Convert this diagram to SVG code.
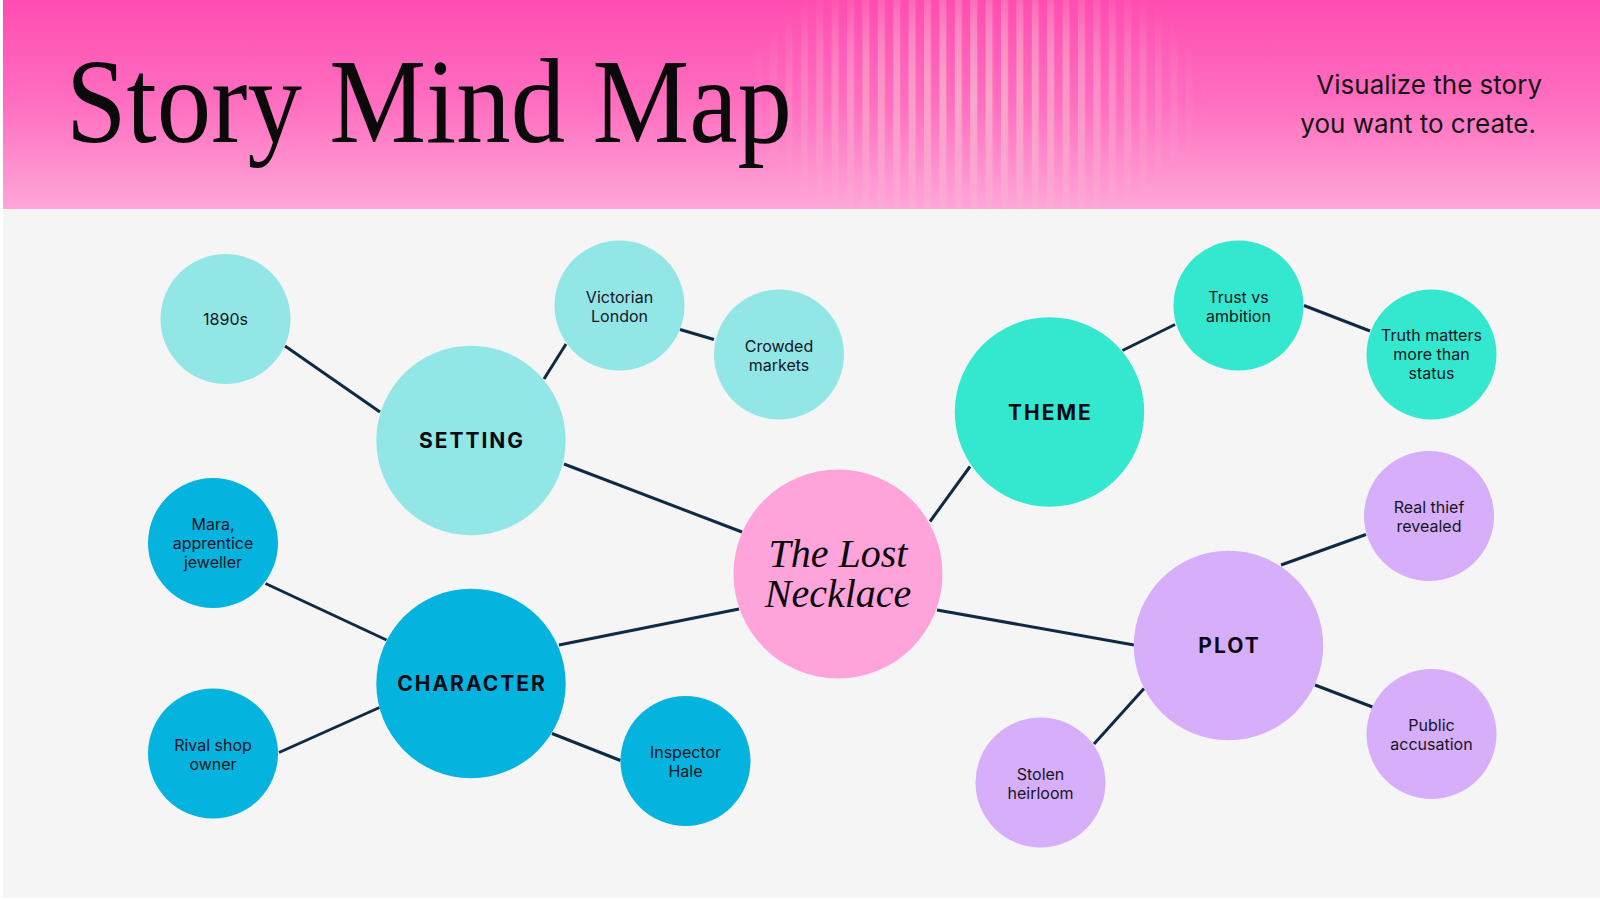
<svg xmlns="http://www.w3.org/2000/svg" width="1600" height="900" viewBox="0 0 1600 900">
  <defs>
    <linearGradient id="hdr" x1="0" y1="0" x2="0" y2="1">
      <stop offset="0" stop-color="#FF4DB1"/>
      <stop offset="0.5" stop-color="#FF6FC0"/>
      <stop offset="1" stop-color="#FFA6D8"/>
    </linearGradient>
    <pattern id="stripes" x="0" y="0" width="15.4" height="10" patternUnits="userSpaceOnUse">
      <rect x="0" y="0" width="7" height="10" fill="#F4C2D0"/>
    </pattern>
    <radialGradient id="fade" cx="975" cy="100" r="235" gradientUnits="userSpaceOnUse" gradientTransform="translate(975 100) scale(1 0.62) translate(-975 -100)">
      <stop offset="0" stop-color="#fff" stop-opacity="0.7"/>
      <stop offset="0.5" stop-color="#fff" stop-opacity="0.45"/>
      <stop offset="1" stop-color="#fff" stop-opacity="0"/>
    </radialGradient>
    <mask id="stripeMask" maskUnits="userSpaceOnUse" x="700" y="0" width="600" height="209">
      <rect x="700" y="0" width="600" height="209" fill="url(#fade)"/>
    </mask>
    <style>
      .link { stroke: #0E2A45; stroke-width: 3; fill: none; stroke-linecap: butt; }
      .setting { fill: #93E6E6; }
      .character { fill: #05B3DF; }
      .theme { fill: #34E8CF; }
      .plot { fill: #D6AEFA; }
      .center { fill: #FFA4DA; }
      .small { font-family: Inter, "Noto Sans", "Liberation Sans", sans-serif; font-size: 16px; fill: #15151F; text-anchor: middle; }
      .cat { font-family: Inter, "Noto Sans", "Liberation Sans", sans-serif; font-size: 21px; font-weight: 700; letter-spacing: 2px; fill: #0A0A12; text-anchor: middle; }
      .title { font-family: "Liberation Serif", "Times New Roman", serif; font-size: 120px; fill: #0A0A0A; }
      .sub { font-family: Inter, "Noto Sans", "Liberation Sans", sans-serif; font-size: 26px; fill: #141414; }
      .hero { font-family: "Liberation Serif", "Times New Roman", serif; font-style: italic; font-size: 40px; fill: #0A0A0A; text-anchor: middle; }
    </style>
  </defs>

  <!-- background -->
  <rect x="0" y="0" width="1600" height="900" fill="#FFFFFF"/>
  <rect x="3" y="209" width="1597" height="689" fill="#F5F5F5"/>

  <!-- header -->
  <g id="header">
    <rect x="3" y="0" width="1597" height="209" fill="url(#hdr)"/>
    <rect x="700" y="0" width="600" height="209" fill="url(#stripes)" mask="url(#stripeMask)"/>
    <text class="title" x="66" y="142" textLength="726" lengthAdjust="spacingAndGlyphs">Story Mind Map</text>
    <text class="sub" x="1542" y="94" text-anchor="end">Visualize the story</text>
    <text class="sub" x="1536" y="133" text-anchor="end">you want to create.</text>
  </g>

  <!-- connectors -->
  <g id="connectors">
    <line class="link" x1="285" y1="346" x2="380" y2="412"/>
    <line class="link" x1="566" y1="344" x2="544" y2="379"/>
    <line class="link" x1="680" y1="329.5" x2="714" y2="339.5"/>
    <line class="link" x1="564" y1="464" x2="742" y2="532"/>
    <line class="link" x1="559" y1="645" x2="739" y2="609"/>
    <line class="link" x1="265.5" y1="583.5" x2="386.5" y2="640"/>
    <line class="link" x1="279" y1="752.5" x2="379.5" y2="707.5"/>
    <line class="link" x1="552" y1="733.5" x2="620.5" y2="760.5"/>
    <line class="link" x1="930" y1="521.5" x2="970" y2="466.5"/>
    <line class="link" x1="1122.5" y1="350.5" x2="1175" y2="324.5"/>
    <line class="link" x1="1304" y1="305.5" x2="1370" y2="331"/>
    <line class="link" x1="937" y1="610" x2="1134" y2="645"/>
    <line class="link" x1="1281" y1="565" x2="1366" y2="534.5"/>
    <line class="link" x1="1315" y1="685" x2="1372.5" y2="707"/>
    <line class="link" x1="1144" y1="688.5" x2="1094" y2="744"/>
  </g>

  <!-- nodes -->
  <g id="node-necklace">
    <circle class="center" cx="838" cy="574" r="104.5"/>
    <text class="hero" x="838" y="566.5">The Lost</text>
    <text class="hero" x="838" y="607">Necklace</text>
  </g>

  <g id="node-setting">
    <circle class="setting" cx="471" cy="440.5" r="94.7"/>
    <text class="cat" x="472" y="448">SETTING</text>
  </g>
  <g id="node-1890s">
    <circle class="setting" cx="225.5" cy="319" r="65"/>
    <text class="small" x="225.5" y="325">1890s</text>
  </g>
  <g id="node-victorian">
    <circle class="setting" cx="619.5" cy="305.5" r="65"/>
    <text class="small" x="619.5" y="302.5">Victorian</text>
    <text class="small" x="619.5" y="321.5">London</text>
  </g>
  <g id="node-crowded">
    <circle class="setting" cx="779" cy="354.5" r="65"/>
    <text class="small" x="779" y="351.5">Crowded</text>
    <text class="small" x="779" y="370.5">markets</text>
  </g>

  <g id="node-character">
    <circle class="character" cx="471" cy="683.5" r="94.7"/>
    <text class="cat" x="472" y="691">CHARACTER</text>
  </g>
  <g id="node-mara">
    <circle class="character" cx="213" cy="543" r="65"/>
    <text class="small" x="213" y="530">Mara,</text>
    <text class="small" x="213" y="549">apprentice</text>
    <text class="small" x="213" y="568">jeweller</text>
  </g>
  <g id="node-rival">
    <circle class="character" cx="213" cy="753.5" r="65"/>
    <text class="small" x="213" y="750.5">Rival shop</text>
    <text class="small" x="213" y="769.5">owner</text>
  </g>
  <g id="node-inspector">
    <circle class="character" cx="685.5" cy="761" r="65"/>
    <text class="small" x="685.5" y="758">Inspector</text>
    <text class="small" x="685.5" y="777">Hale</text>
  </g>

  <g id="node-theme">
    <circle class="theme" cx="1049.5" cy="412" r="94.7"/>
    <text class="cat" x="1050.5" y="419.5">THEME</text>
  </g>
  <g id="node-trust">
    <circle class="theme" cx="1238.5" cy="305.5" r="65"/>
    <text class="small" x="1238.5" y="302.5">Trust vs</text>
    <text class="small" x="1238.5" y="321.5">ambition</text>
  </g>
  <g id="node-truth">
    <circle class="theme" cx="1431.5" cy="354.5" r="65"/>
    <text class="small" x="1431.5" y="341">Truth matters</text>
    <text class="small" x="1431.5" y="360">more than</text>
    <text class="small" x="1431.5" y="379">status</text>
  </g>

  <g id="node-plot">
    <circle class="plot" cx="1228.5" cy="645.5" r="94.7"/>
    <text class="cat" x="1229.5" y="653">PLOT</text>
  </g>
  <g id="node-realthief">
    <circle class="plot" cx="1429" cy="516" r="65"/>
    <text class="small" x="1429" y="513">Real thief</text>
    <text class="small" x="1429" y="532">revealed</text>
  </g>
  <g id="node-public">
    <circle class="plot" cx="1431.5" cy="734" r="65"/>
    <text class="small" x="1431.5" y="731">Public</text>
    <text class="small" x="1431.5" y="750">accusation</text>
  </g>
  <g id="node-stolen">
    <circle class="plot" cx="1040.5" cy="782.5" r="65"/>
    <text class="small" x="1040.5" y="779.5">Stolen</text>
    <text class="small" x="1040.5" y="798.5">heirloom</text>
  </g>
</svg>
